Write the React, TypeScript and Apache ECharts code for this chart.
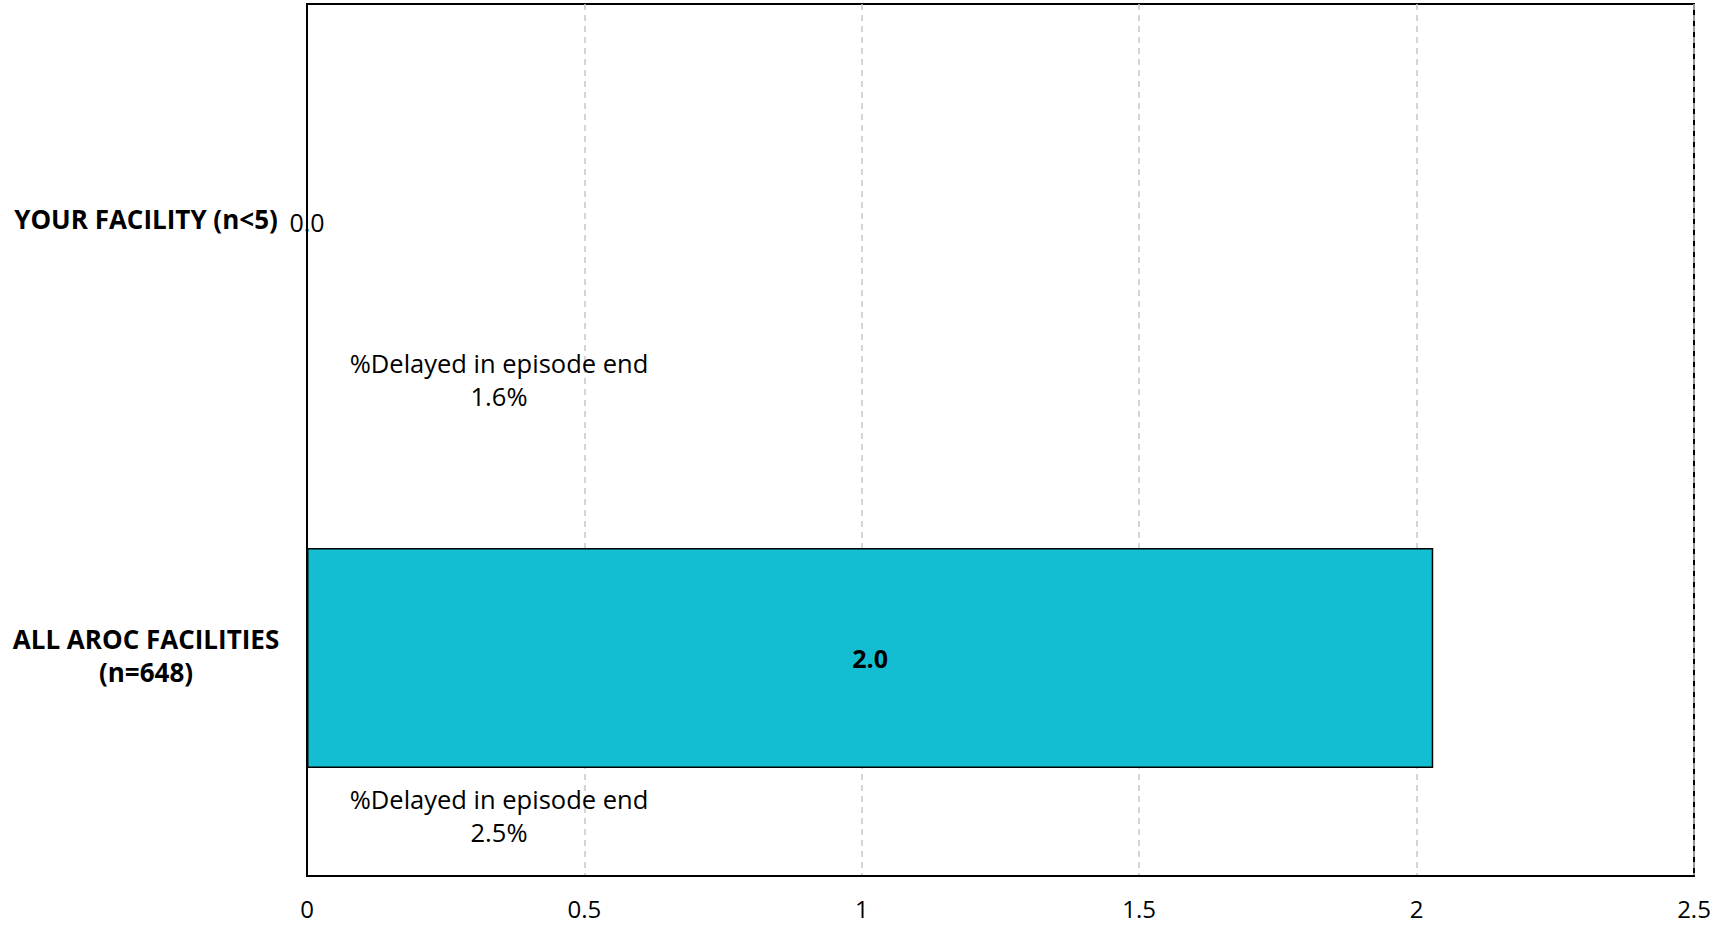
import React, { useEffect, useRef } from "react";
import * as echarts from "echarts";

const categories = ["YOUR FACILITY (n<5)", "ALL AROC FACILITIES\n(n=648)"];
const avgValues = [0.0, 2.03];
const pctDelayed = [1.6, 2.5];
const annotationLabel = "%Delayed in episode end";
const xTicks = { min: 0, max: 2.5, interval: 0.5 };

const FONT = "'Open Sans', 'Noto Sans', sans-serif";

export default function App() {
  const ref = useRef<HTMLDivElement>(null);
  useEffect(() => {
    document.body.style.margin = "0";
    const chart = echarts.init(ref.current!, null, { renderer: "svg" });
    const option: any = {
      animation: false,
      backgroundColor: "#ffffff",
      textStyle: { fontFamily: FONT },
      grid: {
        left: 307,
        right: 26,
        top: 4,
        bottom: 54,
        show: true,
        borderColor: "#000",
        borderWidth: 2,
        containLabel: false,
      },
      xAxis: {
        type: "value",
        min: xTicks.min,
        max: xTicks.max,
        interval: xTicks.interval,
        axisLine: { show: true, lineStyle: { color: "#000", width: 2 } },
        axisTick: { show: false },
        splitLine: { show: true, lineStyle: { color: "#c8c8c8", type: [6, 5], width: 1.5 } },
        axisLabel: {
          color: "#000",
          fontSize: 24,
          fontFamily: FONT,
          margin: 20,
          formatter: (v: number) => String(v),
        },
      },
      yAxis: {
        type: "category",
        data: categories,
        inverse: true,
        axisLine: { show: true, lineStyle: { color: "#000", width: 2 } },
        axisTick: { show: false },
        splitLine: { show: false },
        axisLabel: {
          margin: 25,
          padding: [0, 0, 6, 0],
          formatter: (v: string) =>
            v
              .split("\n")
              .map((s) => `{a|${s}}`)
              .join("\n"),
          rich: {
            a: {
              width: 272,
              align: "center",
              fontSize: 26,
              fontWeight: "bold",
              color: "#000",
              fontFamily: FONT,
              lineHeight: 33,
            },
          },
        },
      },
      series: [
        {
          type: "bar",
          barWidth: "50.5%",
          data: avgValues.map((v) => ({
            value: v,
            label: {
              show: true,
              position: "inside",
              fontWeight: v === 0 ? "normal" : "bold",
              formatter: (p: any) => Number(p.value).toFixed(1),
            },
          })),
          itemStyle: { color: "#14BED2", borderColor: "#000", borderWidth: 1.5 },
          label: { color: "#000", fontSize: 25, fontFamily: FONT },
        },
        {
          type: "custom",
          silent: true,
          data: pctDelayed.map((p, i) => [0, i, p]),
          encode: { x: 0, y: 1 },
          renderItem: (params: any, api: any) => {
            const pt = api.coord([0, api.value(1)]);
            const pct = api.value(2);
            return {
              type: "text",
              x: pt[0] + 192,
              y: pt[1] + 157,
              style: {
                text: `${annotationLabel}\n${Number(pct).toFixed(1)}%`,
                align: "center",
                verticalAlign: "middle",
                fontSize: 25.5,
                lineHeight: 33,
                fontFamily: FONT,
                fill: "#000",
              },
            };
          },
          z: 5,
        },
      ],
    };
    chart.setOption(option);
    return () => chart.dispose();
  }, []);
  return <div ref={ref} style={{ width: 1720, height: 930 }} />;
}
